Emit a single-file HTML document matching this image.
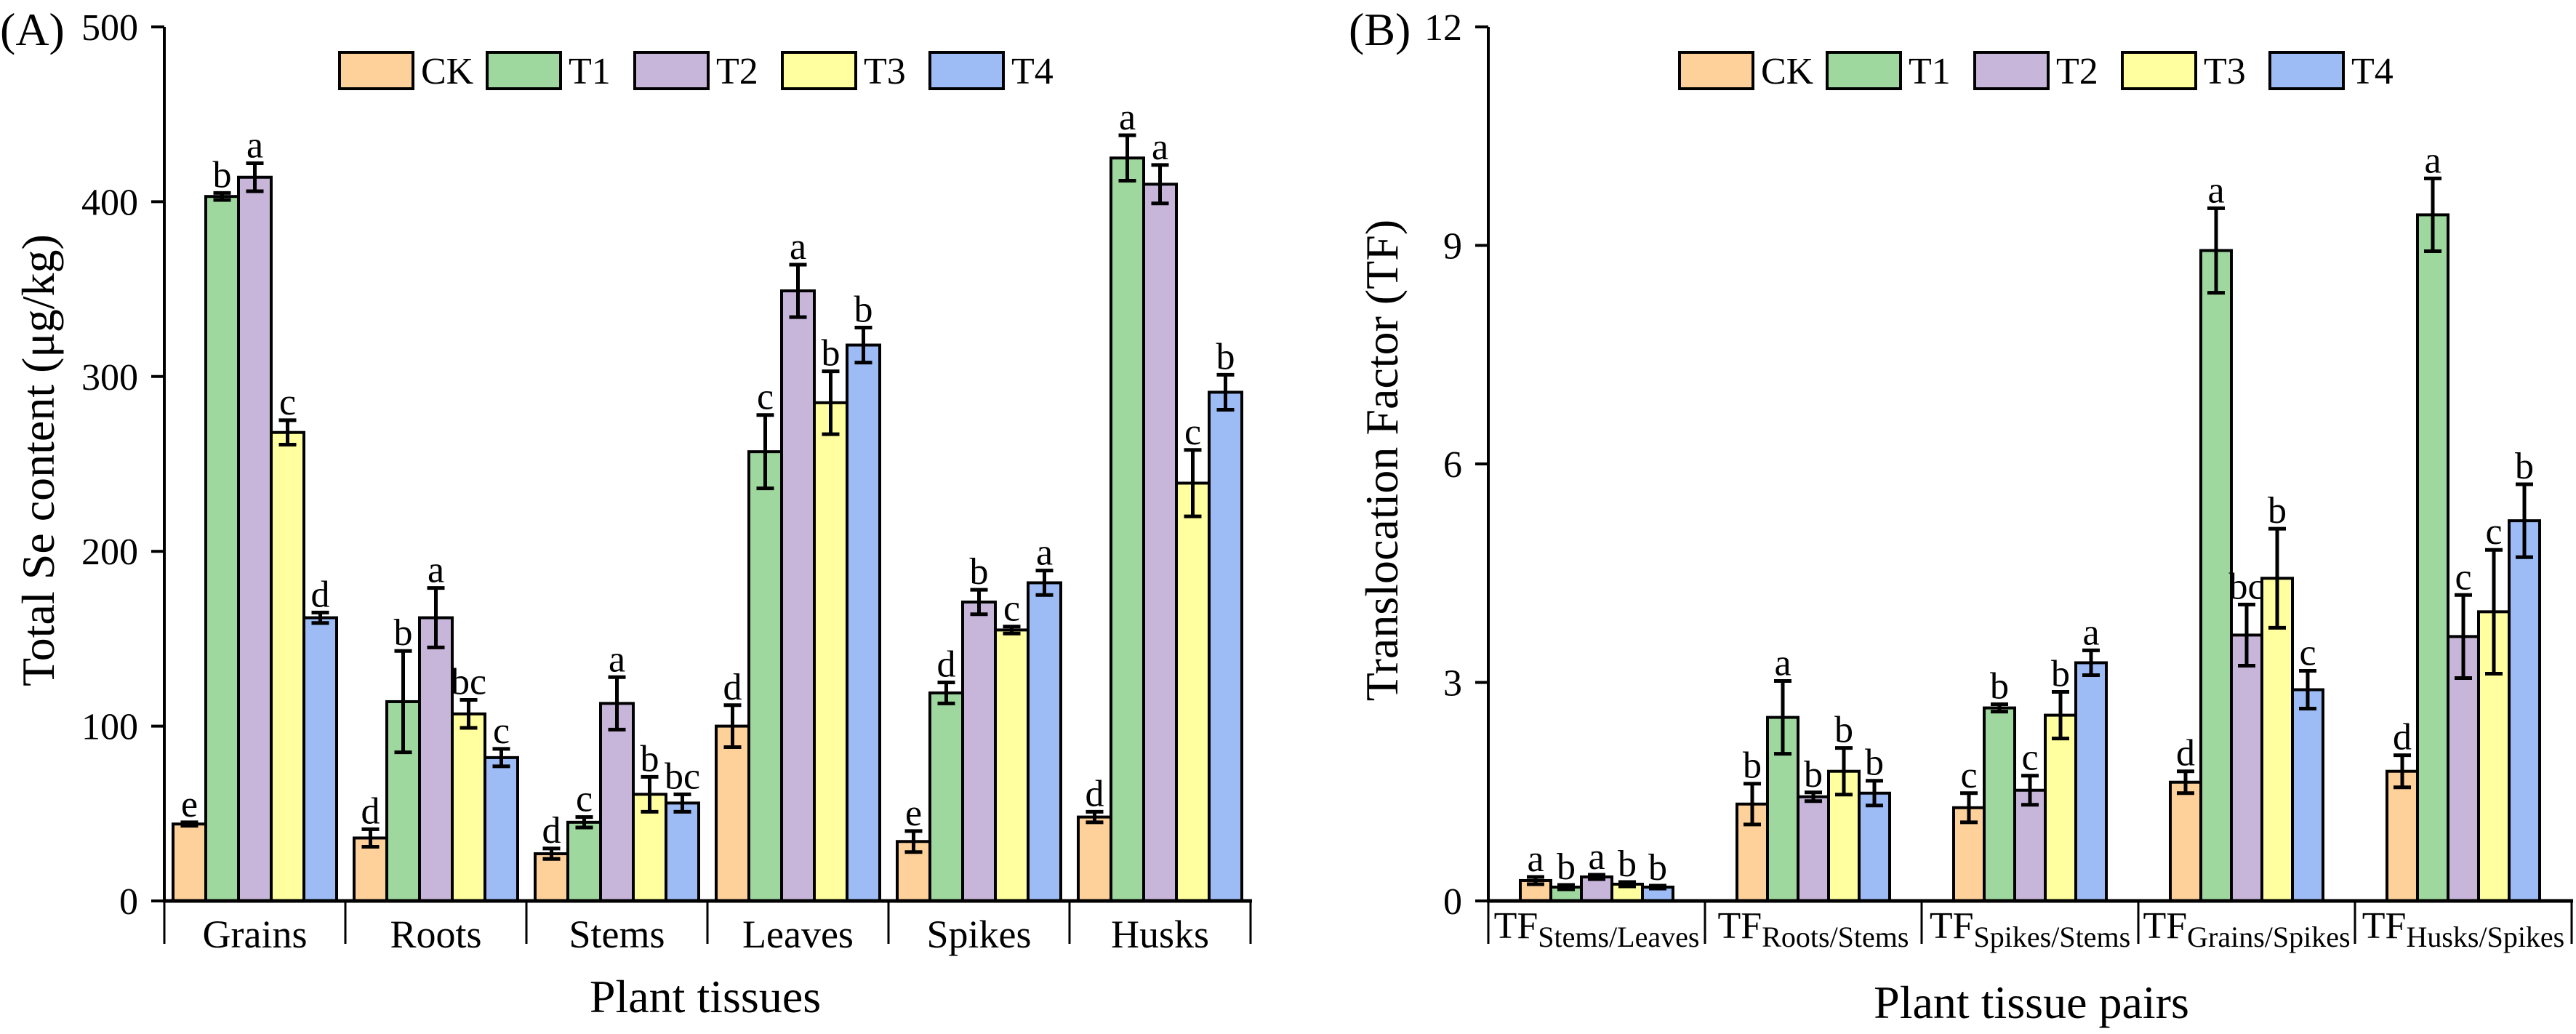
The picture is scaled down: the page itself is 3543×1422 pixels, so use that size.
<!DOCTYPE html>
<html><head><meta charset="utf-8"><style>
html,body{margin:0;padding:0;background:#fff;}
svg{display:block;font-family:"Liberation Serif","Times New Roman",serif;}
</style></head><body>
<svg id="chart" width="3543" height="1422" viewBox="0 0 3543 1422" xmlns="http://www.w3.org/2000/svg">
<text x="0" y="62" font-size="64">(A)</text>
<text x="1855" y="62" font-size="64">(B)</text>
<text transform="translate(74,633) rotate(-90)" text-anchor="middle" font-size="64">Total Se content (μg/kg)</text>
<text transform="translate(1922,633) rotate(-90)" text-anchor="middle" font-size="64">Translocation Factor (TF)</text>
<text x="970" y="1392" text-anchor="middle" font-size="64">Plant tissues</text>
<text x="2794" y="1400" text-anchor="middle" font-size="64">Plant tissue pairs</text>
</svg>
<script>
const series = ["CK","T1","T2","T3","T4"];
const colors = ["#fed19b","#9fd89f","#c8b6da","#ffff9f","#9dbcf5"];
const catsA = ["Grains","Roots","Stems","Leaves","Spikes","Husks"];
const ckA = [44,36,27,100,34,48];
const t1A = [403,114,45,257,119,425];
const t2A = [414,162,113,349,171,410];
const t3A = [268,107,61,285,155,239];
const t4A = [162,82,56,318,182,291];
const ckAerr = [1,5,3,12,6,3];
const t1Aerr = [2,29,3,21,6,13];
const t2Aerr = [8,17,15,15,7,11];
const t3Aerr = [7,8,10,18,2,19];
const t4Aerr = [3,5,5,10,7,10];
const lettersA = [["e","b","a","c","d"],["d","b","a","bc","c"],["d","c","a","b","bc"],["d","c","a","b","b"],["e","d","b","c","a"],["d","a","a","c","b"]];
const ticksA = [0,100,200,300,400,500];

const catsB = ["Stems/Leaves","Roots/Stems","Spikes/Stems","Grains/Spikes","Husks/Spikes"];
const ckB = [0.28,1.33,1.28,1.63,1.78];
const t1B = [0.19,2.52,2.65,8.93,9.42];
const t2B = [0.33,1.43,1.52,3.65,3.63];
const t3B = [0.23,1.78,2.55,4.43,3.97];
const t4B = [0.19,1.48,3.27,2.90,5.22];
const ckBerr = [0.05,0.28,0.2,0.15,0.22];
const t1Berr = [0.03,0.5,0.05,0.58,0.5];
const t2Berr = [0.03,0.06,0.2,0.42,0.57];
const t3Berr = [0.03,0.32,0.32,0.68,0.85];
const t4Berr = [0.02,0.17,0.17,0.26,0.5];
const lettersB = [["a","b","a","b","b"],["b","a","b","b","b"],["c","b","c","b","a"],["d","a","bc","b","c"],["d","a","c","c","b"]];
const ticksB = [0,3,6,9,12];

const NS = "http://www.w3.org/2000/svg";
const svg = document.getElementById("chart");
function mk(tag, attrs, parent){
  const e = document.createElementNS(NS, tag);
  for (const k in attrs) e.setAttribute(k, attrs[k]);
  (parent||svg).appendChild(e);
  return e;
}

function panel(p){
  const g = mk("g", {});
  
  
  const y0 = 1239, y1 = 37;
  const yS = v => y0 - (v / p.max) * (y0 - y1);
  const xL = p.x0, catW = (p.x1 - p.x0) / p.cats.length;
  for (let c = 0; c < p.cats.length; c++){
    const gx = xL + c * catW + (catW - 5 * p.bw) / 2;
    for (let s = 0; s < 5; s++){
      const v = p.vals[s][c], er = p.errs[s][c];
      const x = gx + s * p.bw, yt = yS(v);
      const r = mk("rect", {x:x, y:yt, width:p.bw, height:y0-yt, fill:colors[s], stroke:"#000", "stroke-width":4}, g);
      
      
      const cx = x + p.bw/2, ya = yS(v+er), yb = yS(v-er);
      const eb = mk("path", {d:`M${cx},${ya}V${yb}M${cx-12},${ya}H${cx+12}M${cx-12},${yb}H${cx+12}`, stroke:"#000", "stroke-width":5, fill:"none"}, g);
      
      
      const t = mk("text", {x:cx, y:ya-8, "text-anchor":"middle", "font-size":52}, g);
      t.textContent = p.letters[c][s];
      
      
    }
    const sx = xL + c * catW;
    const sep = mk("line", {x1:sx, y1:y0, x2:sx, y2:1298, stroke:"#000", "stroke-width":3}, g);
    
    
    const lab = mk("text", {x:sx + catW/2, y:p.id==="a"?1303:1290, "text-anchor":"middle", "font-size":p.id==="a"?54:52}, g);
    
    
    if (p.id === "a") lab.textContent = p.cats[c];
    else {
      const t1 = mk("tspan", {}, lab); t1.textContent = "TF";
      const t2 = mk("tspan", {"font-size":40, dy:12}, lab); t2.textContent = p.cats[c];
    }
  }
  const lastSep = mk("line", {x1:p.x1, y1:y0, x2:p.x1, y2:1298, stroke:"#000", "stroke-width":3}, g);
  
  
  const xa = mk("line", {x1:xL-2, y1:y0, x2:p.x1+2, y2:y0, stroke:"#000", "stroke-width":5}, g);
  
  
  const ya = mk("line", {x1:xL, y1:y1, x2:xL, y2:y0, stroke:"#000", "stroke-width":4}, g);
  
  
  p.ticks.forEach(tv => {
    const ty = yS(tv);
    const tk = mk("line", {x1:xL-18, y1:ty, x2:xL, y2:ty, stroke:"#000", "stroke-width":4}, g);
    
    
    const tl = mk("text", {x:xL-36, y:ty+18, "text-anchor":"end", "font-size":52}, g);
    tl.textContent = tv;
    
    
  });
  for (let s = 0; s < 5; s++){
    const lx = p.legX + s * 203;
    const lg = mk("g", {}, g);
    
    
    mk("rect", {x:lx, y:72, width:101, height:50, fill:colors[s], stroke:"#000", "stroke-width":4}, lg);
    const lt = mk("text", {x:lx+112, y:115, "font-size":52}, lg);
    lt.textContent = series[s];
  }
}

panel({id:"a", x0:226, x1:1720, max:500, bw:45, cats:catsA, vals:[ckA,t1A,t2A,t3A,t4A], errs:[ckAerr,t1Aerr,t2Aerr,t3Aerr,t4Aerr], letters:lettersA, ticks:ticksA, legX:467});
panel({id:"b", x0:2047, x1:3537, max:12, bw:42, cats:catsB, vals:[ckB,t1B,t2B,t3B,t4B], errs:[ckBerr,t1Berr,t2Berr,t3Berr,t4Berr], letters:lettersB, ticks:ticksB, legX:2310});
</script>
</body></html>
